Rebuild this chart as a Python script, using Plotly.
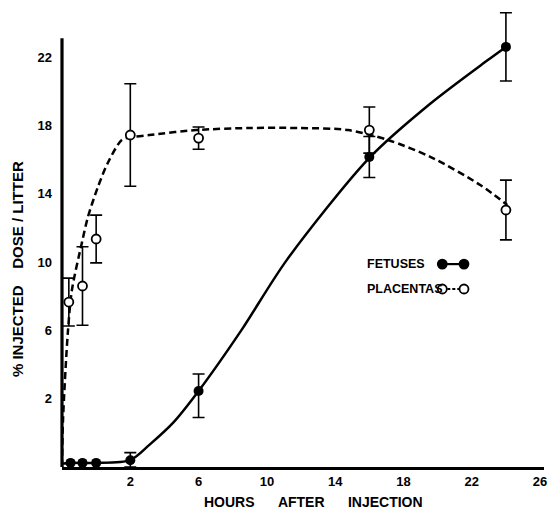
import plotly.graph_objects as go
import numpy as np

# ---------------- data (hours, % injected dose / litter) ----------------
fetus_hours = [0.25, 0.6, 1.0, 2, 6, 16, 24]
fetus_values = [0.12, 0.12, 0.12, 0.2, 2.45, 16.15, 22.6]
fetus_err = [0, 0, 0, 0.22, 1.0, 1.2, 2.0]

placenta_hours = [0.2, 0.6, 1.0, 2, 6, 16, 24]
placenta_values = [7.66, 8.6, 11.35, 17.44, 17.26, 17.73, 13.05]
placenta_err = [1.4, 2.3, 1.4, 3.0, 0.65, 1.35, 1.75]

# fitted (hand-drawn) curves
fetus_curve_hours = [0, 0.25, 0.6, 1.0, 2, 3.1, 4.5, 6, 8.5, 11.15, 16, 19.6, 22.9, 24]
fetus_curve_values = [0.1, 0.12, 0.12, 0.12, 0.2, 0.64, 1.29, 2.45, 6.0, 10.1, 16.1, 19.3, 21.8, 22.6]

placenta_curve_hours = [0, 0.03, 0.17, 0.29, 0.58, 0.76, 1.05, 1.34, 1.75, 2.0, 3.12, 5.86,
                        8.94, 11.85, 14.76, 17.09, 19.6, 22.5, 24.08]
placenta_curve_values = [0, 1.38, 5.85, 8.36, 11.11, 12.64, 14.39, 15.8, 17.15, 17.3, 17.44, 17.73,
                         17.85, 17.85, 17.73, 17.15, 16.15, 14.51, 13.34]

x_ticks = [2, 6, 10, 14, 18, 22, 26]
y_ticks = [2, 6, 10, 14, 18, 22]
y_axis_top = 23.1   # value where the drawn vertical axis ends


# broken scale: the first 2 units are stretched to twice the width
def scale(v):
    v = np.asarray(v, dtype=float)
    return np.where(v <= 2, 2 * v, v + 2)


def err_arrays(vals, errs):
    vals = np.asarray(vals, float)
    errs = np.asarray(errs, float)
    up = scale(vals + errs) - scale(vals)
    dn = scale(vals) - scale(np.maximum(vals - errs, 0))
    return up, dn


FONT = "Liberation Sans"
fig = go.Figure()

# curves
fig.add_trace(go.Scatter(
    x=scale(fetus_curve_hours), y=scale(fetus_curve_values), mode="lines",
    line=dict(color="black", width=2.5, shape="spline", smoothing=0.8),
    hoverinfo="skip", showlegend=False))
fig.add_trace(go.Scatter(
    x=scale(placenta_curve_hours), y=scale(placenta_curve_values), mode="lines",
    line=dict(color="black", width=2.5, dash="7px,4px", shape="spline", smoothing=0.8),
    hoverinfo="skip", showlegend=False))

# points with error bars
fu, fd = err_arrays(fetus_values, fetus_err)
fig.add_trace(go.Scatter(
    x=scale(fetus_hours), y=scale(fetus_values), mode="markers", name="FETUSES",
    marker=dict(symbol="circle", size=10, color="black"),
    error_y=dict(type="data", array=fu, arrayminus=fd, color="black", thickness=1.6, width=6),
    cliponaxis=False, showlegend=False))
pu, pd_ = err_arrays(placenta_values, placenta_err)
fig.add_trace(go.Scatter(
    x=scale(placenta_hours), y=scale(placenta_values), mode="markers", name="PLACENTAS",
    marker=dict(symbol="circle", size=9, color="white", line=dict(color="black", width=1.8)),
    error_y=dict(type="data", array=pu, arrayminus=pd_, color="black", thickness=1.6, width=6),
    cliponaxis=False, showlegend=False))

# vertical axis line (ends below the top of the plotting area)
fig.add_shape(type="line", xref="paper", yref="y", x0=0, x1=0, y0=0,
              y1=float(scale(y_axis_top)), line=dict(color="black", width=3.2))

# legend (text followed by symbol, as in the original)
legend_items = [("FETUSES", 0.444, "solid", "black"), ("PLACENTAS", 0.3895, "3px,2px", "white")]
for label, ypos, dash, fill in legend_items:
    fig.add_annotation(text="<b>" + label + "</b>", xref="paper", yref="paper",
                       x=0.628, y=ypos, xanchor="left", yanchor="middle", showarrow=False,
                       font=dict(family=FONT, size=12.5, color="black"))
    fig.add_shape(type="line", xref="paper", yref="paper", x0=0.789, x1=0.834, y0=ypos, y1=ypos,
                  line=dict(color="black", width=2.2, dash=dash))
    for cx in (0.789, 0.834):
        fig.add_shape(type="circle", xref="paper", yref="paper", xsizemode="pixel",
                      ysizemode="pixel", xanchor=cx, yanchor=ypos, x0=-4.5, x1=4.5, y0=-4.5, y1=4.5,
                      fillcolor=fill, line=dict(color="black", width=1.8))

# axis titles
sp = "&nbsp;" * 6
fig.add_annotation(text="<b>HOURS" + sp + "AFTER" + sp + "INJECTION</b>",
                   xref="paper", yref="paper", x=0.522, y=-0.0766, xanchor="center",
                   yanchor="middle", showarrow=False,
                   font=dict(family=FONT, size=14, color="black"))
fig.add_annotation(text="<b>%&nbsp;INJECTED&nbsp;&nbsp;&nbsp;&nbsp;DOSE / LITTER</b>",
                   xref="paper", yref="paper", x=-0.091, y=0.4333, xanchor="center",
                   yanchor="middle", textangle=-90, showarrow=False,
                   font=dict(family=FONT, size=15, color="black"))

fig.update_layout(
    width=554, height=509,
    margin=dict(l=62, r=7, t=10, b=42),
    paper_bgcolor="white", plot_bgcolor="white",
    showlegend=False,
    xaxis=dict(range=[0, 28.23], tickvals=scale(x_ticks), ticktext=[str(t) for t in x_ticks],
               showgrid=False, zeroline=False, showline=True, linecolor="black", linewidth=3,
               ticks="", tickfont=dict(family=FONT, size=13, color="black", weight="bold"),
               ticklabelstandoff=0, ticklabeloverflow="allow"),
    yaxis=dict(range=[0, 26.76], tickvals=scale(y_ticks), ticktext=[str(t) for t in y_ticks],
               showgrid=False, zeroline=False, showline=False,
               ticks="", tickfont=dict(family=FONT, size=13, color="black", weight="bold"),
               ticklabelstandoff=9),
)

fig.write_html("out.html", config={"displayModeBar": False},
               post_script="document.body.style.margin='0';")
